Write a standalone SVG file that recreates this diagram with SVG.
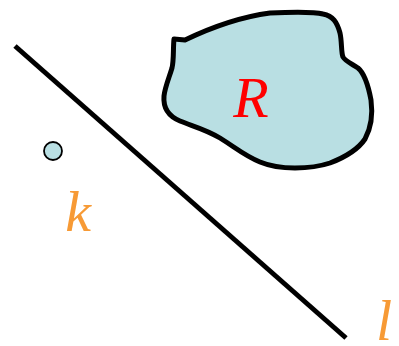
<svg xmlns="http://www.w3.org/2000/svg" width="399" height="346" viewBox="0 0 399 346">
<style>
.lbl{font-family:'Liberation Serif','Times New Roman',serif;font-style:italic;font-size:58px}
</style>
<rect width="399" height="346" fill="#fff"/>
<g id="region-R">
<path d="M174,39 L185,40 C210,28 240,17 270,13 C295,12 315,12 323,14 C333,16 337,22 340,33 C342,42 341,52 343,57 C345,61 352,64 358,68 C364,73 368,84 371,100 C373,115 371,128 365,139 C357,151 343,158 330,163 C318,167 310,168 295,168 C283,168 272,167 260,162 C245,156 236,148 220,138 C205,129 192,126 180,121 C168,116 163,108 164,96 C165,87 169,78 172,68 C174,60 173,48 174,39 Z" fill="#b9dfe3" stroke="#000" stroke-width="5" stroke-linejoin="round"/>
<text class="lbl" x="251" y="117" text-anchor="middle" fill="#ff0000">R</text>
</g>
<g id="point-k">
<circle cx="53" cy="151" r="9" fill="#b9dfe3" stroke="#000" stroke-width="1.8"/>
<text class="lbl" x="78" y="231" text-anchor="middle" fill="#f79a35">k</text>
</g>
<g id="line-l">
<line x1="15" y1="46" x2="346" y2="338" stroke="#000" stroke-width="5"/>
<text class="lbl" x="376" y="340" fill="#f79a35">l</text>
</g>
</svg>
